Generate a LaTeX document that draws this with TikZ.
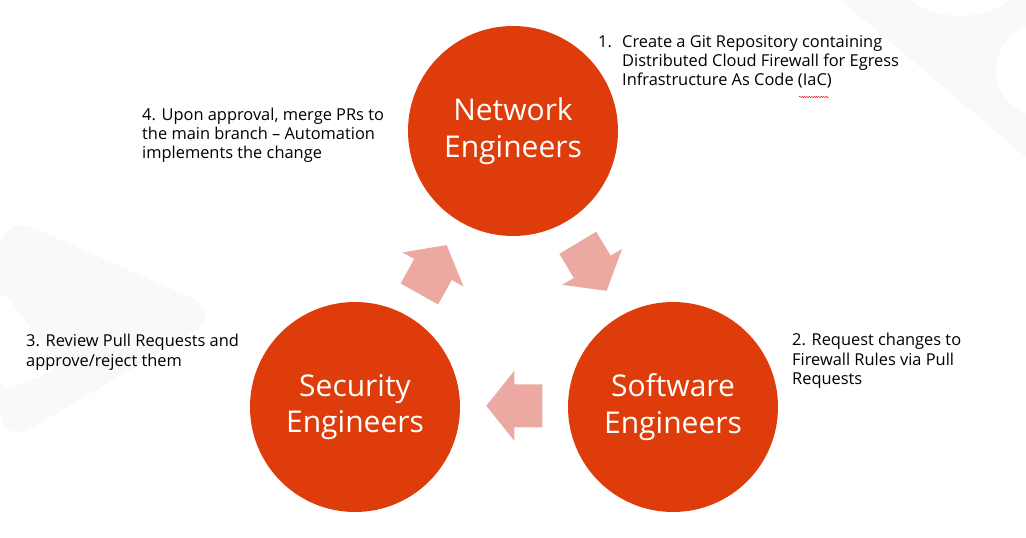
\documentclass[tikz,border=0pt]{standalone}
\usepackage{fontspec}
\setmainfont{Open Sans}
\usetikzlibrary{decorations.pathmorphing}
\definecolor{circfill}{RGB}{222,60,10}
\definecolor{arrfill}{RGB}{235,169,162}
\definecolor{wmark}{RGB}{249,249,249}
\begin{document}
\begin{tikzpicture}[x=1pt,y=-1pt,
  circ/.style={circle, fill=circfill, minimum size=210pt, inner sep=0pt,
    text=white, align=center, font=\fontsize{30}{36.5}\selectfont},
  note/.style={anchor=north west, inner sep=0pt, align=left,
    font=\fontsize{16.4}{19.2}\selectfont, text=black},
  blockarrow/.style={fill=arrfill},
  spell/.style={draw=red, line width=0.5pt, decorate,
    decoration={snake, amplitude=0.6pt, segment length=2.4pt}}]
\useasboundingbox (0,0) rectangle (1026,538);
\fill[white] (0,0) rectangle (1026,538);
% faint watermark shapes
\fill[wmark, even odd rule]
  [rounded corners=38pt] (0,213) -- (225,313) -- (0,447) -- cycle
  [rounded corners=14pt] (0,287) -- (62,368) -- (0,392) -- cycle;
\fill[wmark] (841,0) -- (1026,0) -- (1026,157) -- cycle;
\fill[white] (960,-22) ellipse[x radius=60, y radius=38];
\fill[wmark] (965,-25) ellipse[x radius=38, y radius=25];
\fill[white] (1042,70) circle[radius=46];
% circles
\node[circ] (net) at (513,131) {Network\\Engineers};
\node[circ] (sec) at (355,407) {Security\\Engineers};
\node[circ] (soft) at (673,407) {Software\\Engineers};
% block arrows
\fill[blockarrow, shift={(433,269.5)}, rotate=60.8]
  (-28,-21.5) -- (0,-21.5) -- (0,-35) -- (28,0) -- (0,35) -- (0,21.5) -- (-28,21.5) -- cycle;
\fill[blockarrow, shift={(592.2,266.8)}, rotate=-59]
  (-28,-21.5) -- (0,-21.5) -- (0,-35) -- (28,0) -- (0,35) -- (0,21.5) -- (-28,21.5) -- cycle;
\fill[blockarrow, shift={(514.3,405.8)}, rotate=180]
  (-28,-21.5) -- (0,-21.5) -- (0,-35) -- (28,0) -- (0,35) -- (0,21.5) -- (-28,21.5) -- cycle;
% notes
\node[note] (n1num) at (598,33.6) {\strut 1.};
\node[note] (n1) at (622,33.6) {\strut Create a Git Repository containing\\Distributed Cloud Firewall for Egress\\Infrastructure As Code (IaC)};
\coordinate (sp1) at (799,97);
\coordinate (sp2) at (829,97);
\draw[spell] (sp1) -- (sp2);
\node[note] (n4) at (142,106.6) {\strut 4. Upon approval, merge PRs to\\the main branch – Automation\\implements the change};
\node[note] (n3) at (26,333.3) {\strut 3. Review Pull Requests and\\approve/reject them};
\node[note] (n2) at (792,332.3) {\strut 2. Request changes to\\Firewall Rules via Pull\\Requests};
\end{tikzpicture}
\end{document}
